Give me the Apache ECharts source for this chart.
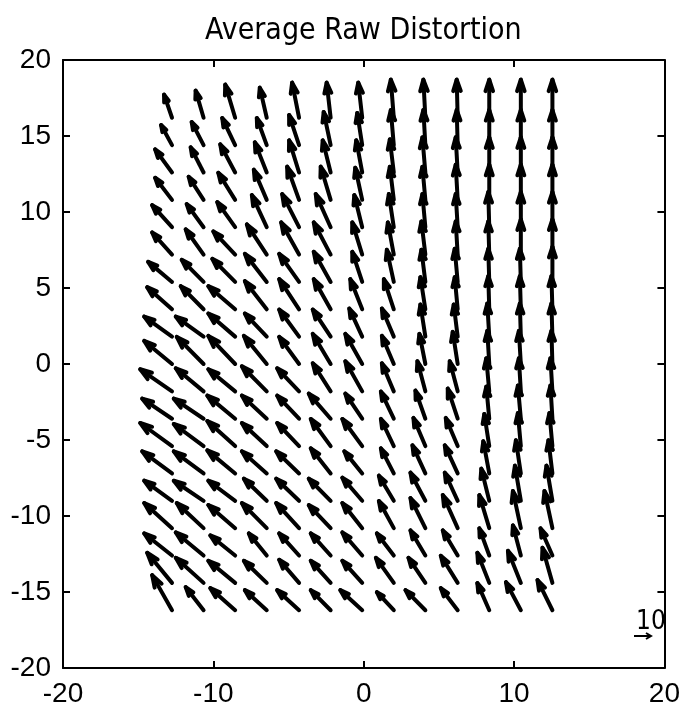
<!DOCTYPE html>
<html>
<head>
<meta charset="utf-8">
<script src="https://cdn.jsdelivr.net/npm/echarts@6/dist/echarts.min.js"></script>
<style>html,body{margin:0;padding:0;background:#fff}#c{width:683px;height:715px}</style>
</head>
<body>
<div id="c"></div>
<script>
// Grid point (arrow tail) positions, data units
const colX = [-12.75,-10.65,-8.55,-6.45,-4.3,-2.2,-0.1,2.0,4.1,6.25,8.35,10.45,12.55];
const rowY = [16.2,14.4,12.6,10.8,9.0,7.2,5.4,3.6,1.8,0,-1.8,-3.6,-5.4,-7.2,-9.0,-10.8,-12.6,-14.4,-16.2];
const xTicks = [-20,-10,0,10,20];
const yTicks = [-20,-15,-10,-5,0,5,10,15,20];
// Distortion components per column (top row first); U horizontal, V vertical
const U = [
  [-8,-11,-17,-17,-20,-20,-24,-25,-28,-28,-32,-30,-32,-30,-28,-28,-28,-25,-20],
  [-8,-12,-13,-15,-17,-18,-22,-23,-28,-27,-28,-30,-30,-30,-30,-27,-28,-28,-18],
  [-10,-13,-15,-17,-18,-22,-23,-27,-27,-27,-27,-28,-28,-28,-27,-27,-25,-27,-25],
  [-7,-10,-12,-13,-15,-20,-22,-22,-22,-23,-25,-25,-25,-25,-23,-25,-18,-23,-22],
  [-7,-10,-10,-12,-17,-18,-20,-20,-20,-20,-22,-22,-22,-23,-23,-23,-20,-20,-22],
  [-4,-7,-8,-10,-15,-17,-17,-17,-18,-18,-18,-22,-20,-20,-22,-22,-20,-20,-20],
  [-4,-5,-6,-7,-8,-10,-10,-12,-13,-17,-17,-17,-20,-18,-20,-20,-20,-20,-22],
  [-3,-3,-4,-4,-5,-6,-7,-10,-12,-12,-12,-13,-13,-13,-15,-15,-17,-18,-17],
  [-2,-2,-3,-3,-3,-4,-4,-5,-5,-6,-8,-10,-12,-13,-15,-15,-15,-17,-20],
  [-1,-1,-2,-2,-2,-2,-3,-3,-4,-5,-8,-10,-12,-13,-13,-15,-15,-17,-17],
  [0,0,0,0,-1,-1,-1,-1,-2,-2,-3,-3,-5,-6,-8,-10,-10,-12,-12],
  [0,0,0,0,0,0,-1,-1,-1,-2,-2,-3,-3,-5,-6,-8,-8,-13,-15],
  [0,0,0,0,0,0,0,-1,-1,-1,-2,-2,-3,-4,-6,-8,-12,-10,-15]
];
const V = [
  [23,20,23,22,22,22,20,22,20,23,22,20,23,22,20,25,22,30,35],
  [27,23,25,23,23,25,22,23,20,27,23,20,22,22,20,25,23,25,23],
  [33,27,28,27,25,23,23,23,23,28,22,23,25,23,20,23,20,22,22],
  [30,27,30,30,32,30,28,28,23,28,25,23,23,22,22,25,22,22,20],
  [35,30,32,33,33,32,28,30,27,27,23,23,23,22,22,25,22,23,20],
  [35,33,32,33,33,32,30,30,27,30,28,25,27,25,22,23,22,22,20],
  [35,32,32,32,32,32,30,30,28,30,30,25,27,22,23,25,23,22,20],
  [38,35,33,33,33,32,32,30,28,28,28,27,27,25,25,27,22,25,18],
  [38,35,35,33,33,33,32,32,32,30,30,28,28,28,28,30,25,25,20],
  [38,35,35,35,33,33,33,32,32,32,30,30,28,28,28,33,25,27,22],
  [38,35,35,35,35,33,33,33,33,33,33,32,32,32,32,33,27,30,27],
  [38,35,35,35,35,35,33,33,33,33,33,33,33,33,35,37,30,32,28],
  [38,35,35,35,35,35,35,33,33,33,33,33,33,33,35,37,27,35,30]
];
const quiverScale = 0.066;

const data = [];
for (let c = 0; c < colX.length; c++) {
  for (let r = 0; r < rowY.length; r++) {
    data.push([colX[c], rowY[r], U[c][r], V[c][r]]);
  }
}

const chart = echarts.init(document.getElementById('c'), null, {renderer: 'canvas'});
const FONT = 'Liberation Sans';
const NARROW = '"DejaVu Sans Condensed", "Liberation Sans"';
const axisCommon = {
  type: 'value', min: -20, max: 20,
  axisLine: {show: true, onZero: false, lineStyle: {color: '#000', width: 2}},
  axisTick: {show: true, inside: true, length: 7, lineStyle: {color: '#000', width: 2}},
  splitLine: {show: false},
  axisLabel: {color: '#000', fontSize: 28, fontFamily: FONT, margin: 12}
};
chart.setOption({
  animation: false,
  backgroundColor: '#fff',
  title: {
    text: 'Average Raw Distortion', left: 200, top: 11,
    textStyle: {fontSize: 30, fontWeight: 'normal', color: '#000', fontFamily: NARROW}
  },
  grid: {left: 63, right: 16, top: 60, bottom: 47},
  xAxis: [
    Object.assign({}, axisCommon, {position: 'bottom', interval: 10}),
    Object.assign({}, axisCommon, {position: 'top', interval: 10, axisLabel: {show: false}})
  ],
  yAxis: [
    Object.assign({}, axisCommon, {position: 'left', interval: 5}),
    Object.assign({}, axisCommon, {position: 'right', interval: 5, axisLabel: {show: false}})
  ],
  series: [{
    type: 'custom',
    coordinateSystem: 'cartesian2d',
    xAxisIndex: 0, yAxisIndex: 0,
    encode: {x: 0, y: 1},
    data: data,
    clip: false,
    renderItem: function (params, api) {
      const x = api.value(0), y = api.value(1), u = api.value(2), v = api.value(3);
      const p0 = api.coord([x, y]);
      const p1 = api.coord([x + u * quiverScale, y + v * quiverScale]);
      const du = p1[0] - p0[0], dv = p1[1] - p0[1];
      const a = 0.3, b = 0.33;
      const h1 = [p1[0] - a * (du + b * dv), p1[1] - a * (dv - b * du)];
      const h2 = [p1[0] - a * (du - b * dv), p1[1] - a * (dv + b * du)];
      const st = {stroke: '#000', lineWidth: 4, fill: null, lineCap: 'round', lineJoin: 'round'};
      return {
        type: 'group',
        children: [
          {type: 'polyline', shape: {points: [p0, p1]}, style: st},
          {type: 'polyline', shape: {points: [h1, p1, h2]}, style: st}
        ]
      };
    }
  }],
  graphic: [
    {type: 'text', left: 636, top: 609, style: {text: '10', fontSize: 26, fontFamily: NARROW, fill: '#000'}},
    {type: 'polyline', shape: {points: [[634, 636], [651, 636]]}, style: {stroke: '#000', lineWidth: 2}},
    {type: 'polyline', shape: {points: [[646, 633], [651, 636], [646, 639]]}, style: {stroke: '#000', lineWidth: 2, fill: null}}
  ]
});
</script>
</body>
</html>
